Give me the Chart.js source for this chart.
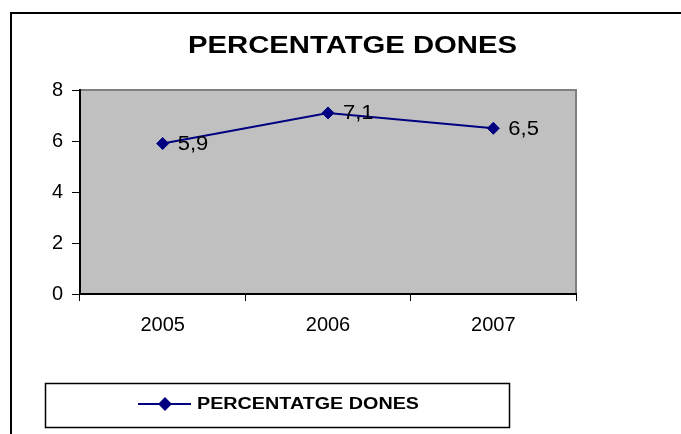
<!DOCTYPE html>
<html><head><meta charset="utf-8">
<script src="https://cdn.jsdelivr.net/npm/chart.js@4.4.0/dist/chart.umd.min.js"></script>
<style>html,body{margin:0;padding:0;background:#fff;}</style>
</head><body>
<canvas id="c" width="681" height="434"></canvas>
<script>
const chartTitle = 'PERCENTATGE DONES';
const seriesName = 'PERCENTATGE DONES';
const years = ['2005', '2006', '2007'];
const values = [5.9, 7.1, 6.5];
const valueLabels = ['5,9', '7,1', '6,5'];
const yMin = 0, yMax = 8, yStep = 2;

const FONT = '"Liberation Sans", Arial, sans-serif';
const NAVY = '#000080';

const decor = {
  id: 'decor',
  beforeDraw(chart) {
    const ctx = chart.ctx, a = chart.chartArea;
    ctx.save();
    ctx.fillStyle = '#fff';
    ctx.fillRect(0, 0, chart.width, chart.height);
    ctx.strokeStyle = '#000';
    ctx.lineWidth = 2;
    ctx.beginPath();
    ctx.moveTo(11, 434); ctx.lineTo(11, 13); ctx.lineTo(681, 13);
    ctx.stroke();
    ctx.fillStyle = '#c0c0c0';
    ctx.fillRect(a.left, a.top, a.right - a.left, a.bottom - a.top);
    ctx.strokeStyle = '#808080';
    ctx.lineWidth = 2;
    ctx.beginPath();
    ctx.moveTo(a.left, a.top); ctx.lineTo(a.right, a.top); ctx.lineTo(a.right, a.bottom);
    ctx.stroke();
    ctx.restore();
  },
  afterDatasetsDraw(chart) {
    const ctx = chart.ctx;
    const meta = chart.getDatasetMeta(0);
    ctx.save();
    ctx.fillStyle = '#000';
    ctx.font = '20px ' + FONT;
    ctx.textBaseline = 'middle';
    ctx.textAlign = 'left';
    meta.data.forEach((p, i) => {
      ctx.save();
      ctx.translate(p.x + 15, p.y + 1);
      ctx.scale(1.1, 1);
      ctx.fillText(valueLabels[i], 0, 0);
      ctx.restore();
    });
    ctx.restore();
  },
  afterDraw(chart) {
    const ctx = chart.ctx;
    ctx.save();
    ctx.fillStyle = '#000';
    ctx.font = 'bold 23px ' + FONT;
    ctx.textAlign = 'center';
    ctx.textBaseline = 'alphabetic';
    let w = ctx.measureText(chartTitle).width;
    ctx.save();
    ctx.translate(352.5, 53);
    ctx.scale(329 / w, 1);
    ctx.fillText(chartTitle, 0, 0);
    ctx.restore();
    ctx.strokeStyle = '#000';
    ctx.lineWidth = 1.5;
    ctx.strokeRect(45.5, 383.5, 464, 44);
    ctx.strokeStyle = NAVY;
    ctx.lineWidth = 2;
    ctx.beginPath();
    ctx.moveTo(138, 404); ctx.lineTo(191, 404);
    ctx.stroke();
    ctx.fillStyle = NAVY;
    Chart.helpers.drawPoint(ctx, {pointStyle: 'rectRot', radius: 5.5, rotation: 0, borderWidth: 1}, 165, 404);
    ctx.fillStyle = '#000';
    ctx.font = 'bold 16px ' + FONT;
    ctx.textAlign = 'left';
    w = ctx.measureText(seriesName).width;
    ctx.translate(197, 409);
    ctx.scale(222 / w, 1);
    ctx.fillText(seriesName, 0, 0);
    ctx.restore();
  }
};

new Chart(document.getElementById('c'), {
  type: 'line',
  data: {
    labels: years,
    datasets: [{
      label: seriesName,
      data: values,
      borderColor: NAVY,
      backgroundColor: NAVY,
      borderWidth: 2,
      tension: 0,
      pointStyle: 'rectRot',
      pointRadius: 6,
      pointHoverRadius: 6,
      pointBackgroundColor: NAVY,
      pointBorderColor: NAVY,
      pointBorderWidth: 1,
      clip: false
    }]
  },
  options: {
    responsive: false,
    animation: false,
    devicePixelRatio: 1,
    layout: {padding: {top: 90, right: 105, bottom: 0, left: 0}},
    plugins: {legend: {display: false}, title: {display: false}, tooltip: {enabled: false}},
    scales: {
      x: {
        type: 'category',
        offset: true,
        grid: {offset: true, drawOnChartArea: false, drawTicks: true, tickLength: 7, color: '#000', lineWidth: 1},
        border: {display: true, color: '#000', width: 2},
        ticks: {color: '#000', font: {family: FONT, size: 20}, padding: 12, maxRotation: 0, autoSkip: false},
        afterFit(s) { s.height = 140; }
      },
      y: {
        min: yMin, max: yMax,
        grid: {drawOnChartArea: false, drawTicks: true, tickLength: 8, color: '#000', lineWidth: 1},
        border: {display: true, color: '#000', width: 2},
        ticks: {stepSize: yStep, color: '#000', font: {family: FONT, size: 20}, padding: 9},
        afterFit(s) { s.width = 80; }
      }
    }
  },
  plugins: [decor]
});
</script>
</body></html>
